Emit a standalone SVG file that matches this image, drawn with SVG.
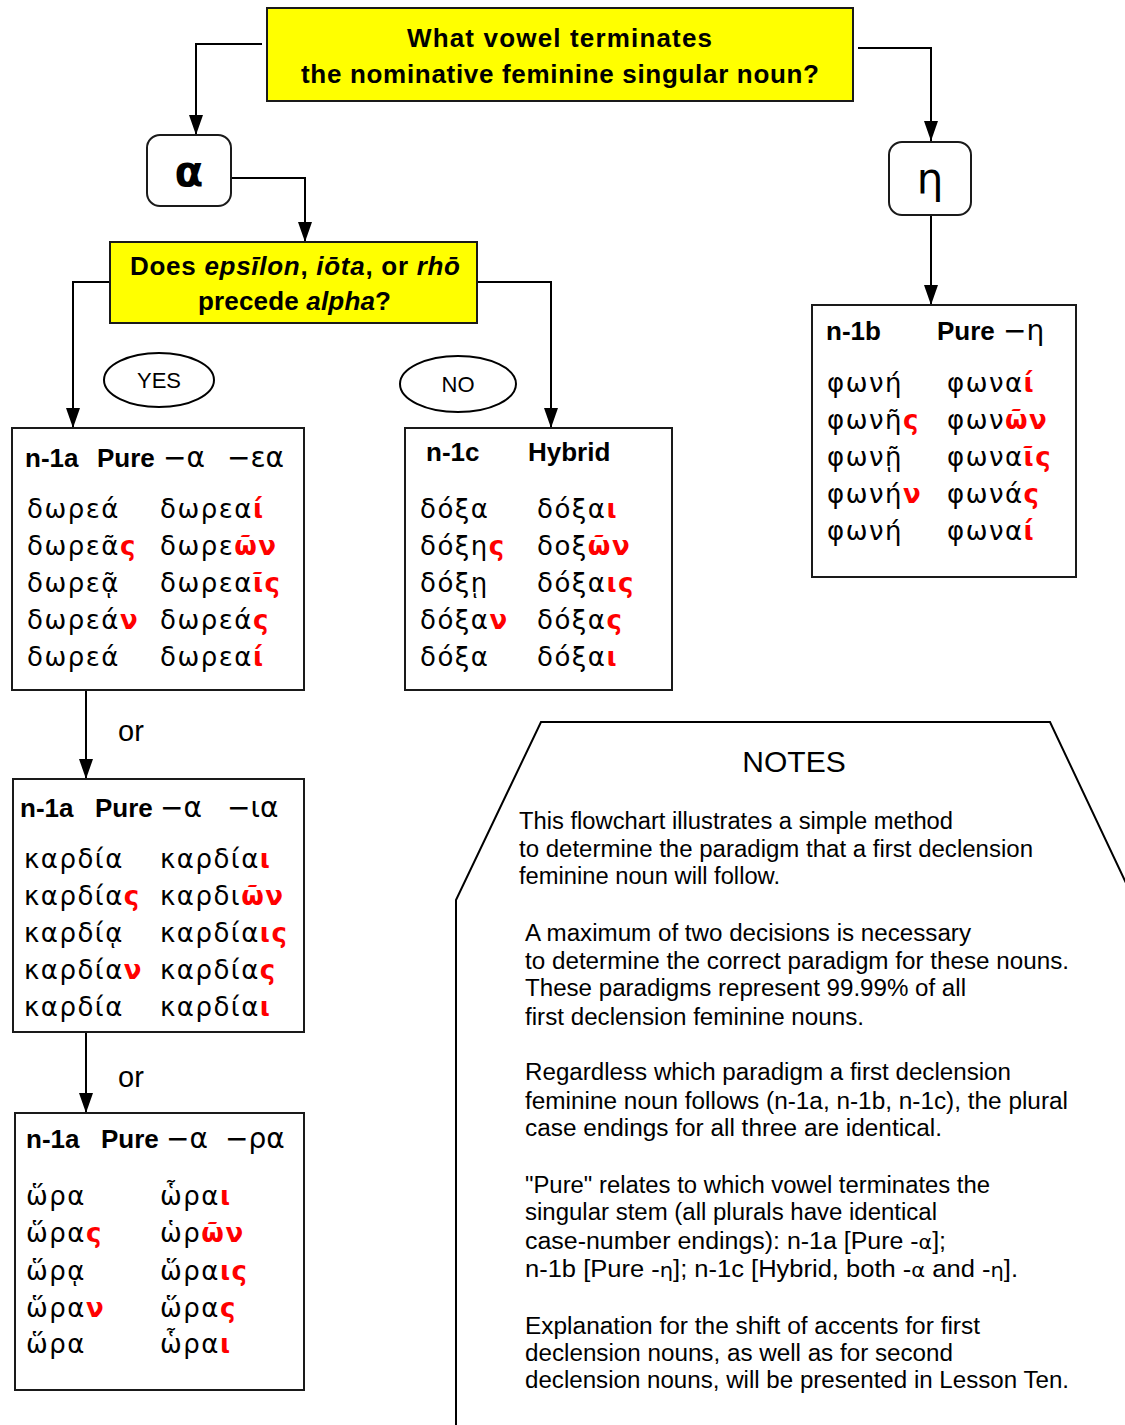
<svg xmlns="http://www.w3.org/2000/svg" width="1125" height="1425" viewBox="0 0 1125 1425">
<style>
.box{fill:#fff;stroke:#1a1a1a;stroke-width:2}
.ybox{fill:#ffff00;stroke:#1a1a1a;stroke-width:2}
.conn{fill:none;stroke:#000;stroke-width:2}
.q{font-family:"Liberation Sans",Arial,sans-serif;font-weight:bold;font-size:26px;fill:#000}
.hd{font-family:"Liberation Sans",Arial,sans-serif;font-weight:bold;font-size:26px;fill:#000}
.hg{font-family:"DejaVu Sans",sans-serif;font-size:28px;fill:#000}
.gk{font-family:"DejaVu Sans",sans-serif;font-size:26px;letter-spacing:1.5px;fill:#000}
.r{fill:#ff0000;font-weight:bold}
.lab{font-family:"Liberation Sans",Arial,sans-serif;font-size:22px;fill:#000}
.or{font-family:"Liberation Sans",Arial,sans-serif;font-size:29px;fill:#000}
.nt{font-family:"Liberation Sans",Arial,sans-serif;font-size:23px;fill:#000}
.ntg{font-family:"DejaVu Sans",sans-serif;font-size:19px}
</style>
<defs>
<marker id="ah" markerWidth="20" markerHeight="14" refX="20" refY="7" orient="auto" markerUnits="userSpaceOnUse" viewBox="0 0 20 14">
<path d="M0,0 L20,7 L0,14 Z" fill="#000"/>
</marker>
</defs>

<g id="connectors">
<polyline class="conn" points="262,44 196,44 196,135" marker-end="url(#ah)"/>
<polyline class="conn" points="231,178 305,178 305,242" marker-end="url(#ah)"/>
<polyline class="conn" points="858,48 931,48 931,141" marker-end="url(#ah)"/>
<polyline class="conn" points="931,215 931,305" marker-end="url(#ah)"/>
<polyline class="conn" points="110,282 73,282 73,428" marker-end="url(#ah)"/>
<polyline class="conn" points="477,282 551,282 551,428" marker-end="url(#ah)"/>
<polyline class="conn" points="86,690 86,779" marker-end="url(#ah)"/>
<polyline class="conn" points="86,1032 86,1113" marker-end="url(#ah)"/>
<text class="or" x="118" y="741">or</text>
<text class="or" x="118" y="1087">or</text>
</g>

<g id="q1">
<rect class="ybox" x="267" y="8" width="586" height="93"/>
<text class="q" x="407" y="47" textLength="305" lengthAdjust="spacing">What vowel terminates</text>
<text class="q" x="301" y="83" textLength="518" lengthAdjust="spacing">the nominative feminine singular noun?</text>
</g>

<g id="alpha">
<rect class="box" x="147" y="135" width="84" height="71" rx="13"/>
<text x="189" y="186" text-anchor="middle" font-family="DejaVu Sans,sans-serif" font-size="42" font-weight="bold">α</text>
</g>

<g id="eta">
<rect class="box" x="889" y="142" width="82" height="73" rx="13"/>
<text x="930" y="193" text-anchor="middle" font-family="DejaVu Sans,sans-serif" font-size="42">η</text>
</g>

<g id="q2">
<rect class="ybox" x="110" y="242" width="367" height="81"/>
<text class="q" x="130" y="275" font-size="25" textLength="330" lengthAdjust="spacing">Does <tspan font-style="italic">epsīlon</tspan>, <tspan font-style="italic">iōta</tspan>, or <tspan font-style="italic">rhō</tspan></text>
<text class="q" x="198" y="310" font-size="25" textLength="193" lengthAdjust="spacing">precede <tspan font-style="italic">alpha</tspan>?</text>
</g>

<g id="yes">
<ellipse cx="159" cy="380" rx="55" ry="27" fill="#fff" stroke="#000" stroke-width="2"/>
<text class="lab" x="159" y="388" text-anchor="middle">YES</text>
</g>
<g id="no">
<ellipse cx="458" cy="384" rx="58" ry="28" fill="#fff" stroke="#000" stroke-width="2"/>
<text class="lab" x="458" y="392" text-anchor="middle">NO</text>
</g>

<g id="n1a-ea">
<rect class="box" x="12" y="428" width="292" height="262"/>
<text class="hd" x="25" y="467">n-1a</text>
<text class="hd" x="97" y="467">Pure</text>
<text class="hg" x="163" y="467">−α</text>
<text class="hg" x="227" y="467">−εα</text>
<text class="gk" x="27" y="518">δωρεά</text>
<text class="gk" x="27" y="555">δωρεᾶ<tspan class="r">ς</tspan></text>
<text class="gk" x="27" y="592">δωρεᾷ</text>
<text class="gk" x="27" y="629">δωρεά<tspan class="r">ν</tspan></text>
<text class="gk" x="27" y="666">δωρεά</text>
<text class="gk" x="160" y="518">δωρεα<tspan class="r">ί</tspan></text>
<text class="gk" x="160" y="555">δωρε<tspan class="r">ῶν</tspan></text>
<text class="gk" x="160" y="592">δωρεα<tspan class="r">ῖς</tspan></text>
<text class="gk" x="160" y="629">δωρεά<tspan class="r">ς</tspan></text>
<text class="gk" x="160" y="666">δωρεα<tspan class="r">ί</tspan></text>
</g>

<g id="n1c">
<rect class="box" x="405" y="428" width="267" height="262"/>
<text class="hd" x="426" y="461">n-1c</text>
<text class="hd" x="528" y="461">Hybrid</text>
<text class="gk" x="420" y="518">δόξα</text>
<text class="gk" x="420" y="555">δόξη<tspan class="r">ς</tspan></text>
<text class="gk" x="420" y="592">δόξῃ</text>
<text class="gk" x="420" y="629">δόξα<tspan class="r">ν</tspan></text>
<text class="gk" x="420" y="666">δόξα</text>
<text class="gk" x="537" y="518">δόξα<tspan class="r">ι</tspan></text>
<text class="gk" x="537" y="555">δοξ<tspan class="r">ῶν</tspan></text>
<text class="gk" x="537" y="592">δόξα<tspan class="r">ις</tspan></text>
<text class="gk" x="537" y="629">δόξα<tspan class="r">ς</tspan></text>
<text class="gk" x="537" y="666">δόξα<tspan class="r">ι</tspan></text>
</g>

<g id="n1b">
<rect class="box" x="812" y="305" width="264" height="272"/>
<text class="hd" x="826" y="340">n-1b</text>
<text class="hd" x="937" y="340">Pure</text>
<text class="hg" x="1003" y="340">−η</text>
<text class="gk" x="827" y="392">φωνή</text>
<text class="gk" x="827" y="429">φωνῆ<tspan class="r">ς</tspan></text>
<text class="gk" x="827" y="466">φωνῇ</text>
<text class="gk" x="827" y="503">φωνή<tspan class="r">ν</tspan></text>
<text class="gk" x="827" y="540">φωνή</text>
<text class="gk" x="947" y="392">φωνα<tspan class="r">ί</tspan></text>
<text class="gk" x="947" y="429">φων<tspan class="r">ῶν</tspan></text>
<text class="gk" x="947" y="466">φωνα<tspan class="r">ῖς</tspan></text>
<text class="gk" x="947" y="503">φωνά<tspan class="r">ς</tspan></text>
<text class="gk" x="947" y="540">φωνα<tspan class="r">ί</tspan></text>
</g>

<g id="n1a-ia">
<rect class="box" x="13" y="779" width="291" height="253"/>
<text class="hd" x="20" y="817">n-1a</text>
<text class="hd" x="95" y="817">Pure</text>
<text class="hg" x="160" y="817">−α</text>
<text class="hg" x="227" y="817">−ια</text>
<text class="gk" x="24" y="868">καρδία</text>
<text class="gk" x="24" y="905">καρδία<tspan class="r">ς</tspan></text>
<text class="gk" x="24" y="942">καρδίᾳ</text>
<text class="gk" x="24" y="979">καρδία<tspan class="r">ν</tspan></text>
<text class="gk" x="24" y="1016">καρδία</text>
<text class="gk" x="160" y="868">καρδία<tspan class="r">ι</tspan></text>
<text class="gk" x="160" y="905">καρδι<tspan class="r">ῶν</tspan></text>
<text class="gk" x="160" y="942">καρδία<tspan class="r">ις</tspan></text>
<text class="gk" x="160" y="979">καρδία<tspan class="r">ς</tspan></text>
<text class="gk" x="160" y="1016">καρδία<tspan class="r">ι</tspan></text>
</g>

<g id="n1a-ra">
<rect class="box" x="15" y="1113" width="289" height="277"/>
<text class="hd" x="26" y="1148">n-1a</text>
<text class="hd" x="101" y="1148">Pure</text>
<text class="hg" x="166" y="1148">−α</text>
<text class="hg" x="225" y="1148">−ρα</text>
<text class="gk" x="26" y="1205">ὥρα</text>
<text class="gk" x="26" y="1242">ὥρα<tspan class="r">ς</tspan></text>
<text class="gk" x="26" y="1280">ὥρᾳ</text>
<text class="gk" x="26" y="1317">ὥρα<tspan class="r">ν</tspan></text>
<text class="gk" x="26" y="1353">ὥρα</text>
<text class="gk" x="160" y="1205">ὧρα<tspan class="r">ι</tspan></text>
<text class="gk" x="160" y="1242">ὡρ<tspan class="r">ῶν</tspan></text>
<text class="gk" x="160" y="1280">ὥρα<tspan class="r">ις</tspan></text>
<text class="gk" x="160" y="1317">ὥρα<tspan class="r">ς</tspan></text>
<text class="gk" x="160" y="1353">ὧρα<tspan class="r">ι</tspan></text>
</g>

<g id="notes">
<polygon points="456,1430 456,900 541,722 1050,722 1135,902 1135,1430" fill="#fff" stroke="#000" stroke-width="2"/>
<text x="794" y="772" text-anchor="middle" font-family="Liberation Sans,Arial,sans-serif" font-size="30">NOTES</text>
<text class="nt" x="519" y="829" textLength="434" lengthAdjust="spacingAndGlyphs">This flowchart illustrates a simple method</text>
<text class="nt" x="519" y="857" textLength="514" lengthAdjust="spacingAndGlyphs">to determine the paradigm that a first declension</text>
<text class="nt" x="519" y="884" textLength="261" lengthAdjust="spacingAndGlyphs">feminine noun will follow.</text>
<text class="nt" x="525" y="941" textLength="446" lengthAdjust="spacingAndGlyphs">A maximum of two decisions is necessary</text>
<text class="nt" x="525" y="969" textLength="544" lengthAdjust="spacingAndGlyphs">to determine the correct paradigm for these nouns.</text>
<text class="nt" x="525" y="996" textLength="441" lengthAdjust="spacingAndGlyphs">These paradigms represent 99.99% of all</text>
<text class="nt" x="525" y="1025" textLength="339" lengthAdjust="spacingAndGlyphs">first declension feminine nouns.</text>
<text class="nt" x="525" y="1080" textLength="486" lengthAdjust="spacingAndGlyphs">Regardless which paradigm a first declension</text>
<text class="nt" x="525" y="1109" textLength="543" lengthAdjust="spacingAndGlyphs">feminine noun follows (n-1a, n-1b, n-1c), the plural</text>
<text class="nt" x="525" y="1136" textLength="417" lengthAdjust="spacingAndGlyphs">case endings for all three are identical.</text>
<text class="nt" x="525" y="1193" textLength="465" lengthAdjust="spacingAndGlyphs">"Pure" relates to which vowel terminates the</text>
<text class="nt" x="525" y="1220" textLength="412" lengthAdjust="spacingAndGlyphs">singular stem (all plurals have identical</text>
<text class="nt" x="525" y="1249" textLength="421" lengthAdjust="spacingAndGlyphs">case-number endings): n-1a [Pure -<tspan class="ntg">α</tspan>];</text>
<text class="nt" x="525" y="1277" textLength="493" lengthAdjust="spacingAndGlyphs">n-1b  [Pure -<tspan class="ntg">η</tspan>]; n-1c [Hybrid, both -<tspan class="ntg">α</tspan> and -<tspan class="ntg">η</tspan>].</text>
<text class="nt" x="525" y="1334" textLength="455" lengthAdjust="spacingAndGlyphs">Explanation for the shift of accents for first</text>
<text class="nt" x="525" y="1361" textLength="428" lengthAdjust="spacingAndGlyphs">declension nouns, as well as for second</text>
<text class="nt" x="525" y="1388" textLength="544" lengthAdjust="spacingAndGlyphs">declension nouns, will be presented in Lesson Ten.</text>
</g>
</svg>
